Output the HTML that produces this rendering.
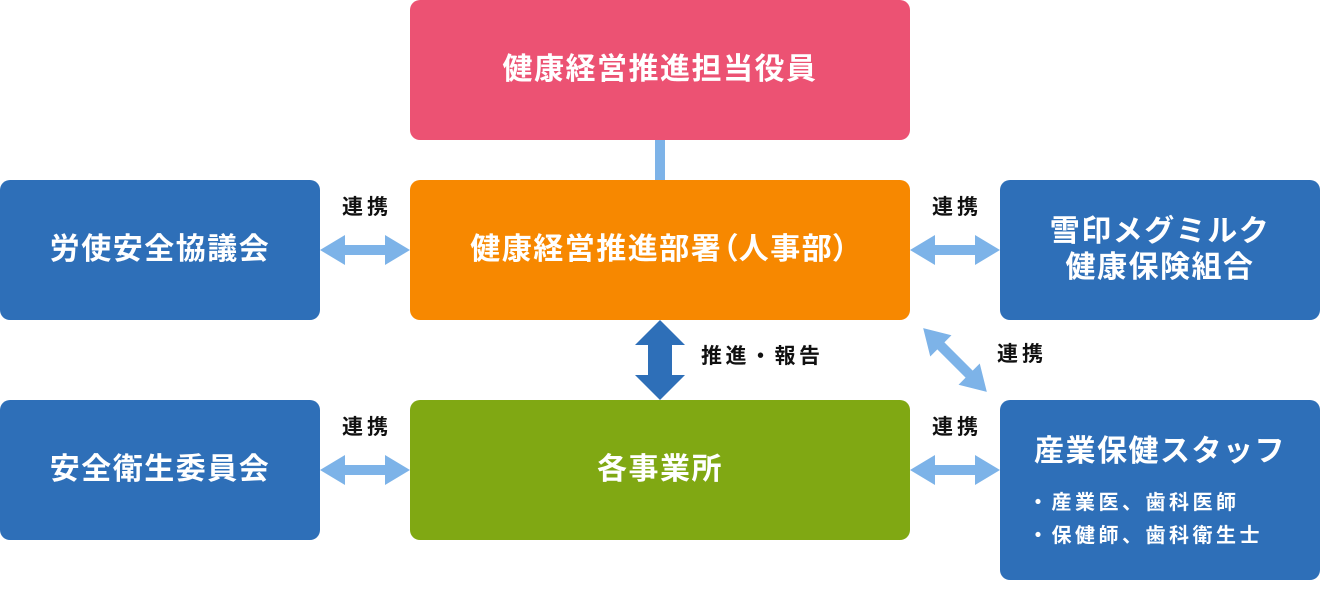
<!DOCTYPE html>
<html><head><meta charset="utf-8"><style>
html,body{margin:0;padding:0;background:#fff;}
body{width:1320px;height:600px;position:relative;overflow:hidden;font-family:"Liberation Sans","Noto Sans CJK JP",sans-serif;font-weight:700;}
.box{position:absolute;border-radius:10px;color:#fff;display:flex;align-items:center;justify-content:center;text-align:center;font-size:30px;letter-spacing:1.5px;line-height:36px;}
.blue{background:#2E6FB8;}
.lbl{position:absolute;color:#111;font-size:21px;letter-spacing:4px;line-height:24px;white-space:nowrap;}
svg{position:absolute;left:0;top:0;}
.abs{position:absolute;white-space:nowrap;color:#fff;}
.p{font-feature-settings:"palt";}
</style></head><body>
<svg width="1320" height="600">
<rect x="655" y="140" width="10" height="40" fill="#7DB3E8"/>
<polygon fill="#7DB3E8" points="320,250 345,235 345,245 385,245 385,235 410,250 385,265 385,255 345,255 345,265"/>
<polygon fill="#7DB3E8" points="910,250 935,235 935,245 975,245 975,235 1000,250 975,265 975,255 935,255 935,265"/>
<polygon fill="#7DB3E8" points="320,470 345,455 345,465 385,465 385,455 410,470 385,485 385,475 345,475 345,485"/>
<polygon fill="#7DB3E8" points="910,470 935,455 935,465 975,465 975,455 1000,470 975,485 975,475 935,475 935,485"/>
<g transform="rotate(45 955 360)">
<polygon fill="#7DB3E8" points="910,360 935,345 935,355 975,355 975,345 1000,360 975,375 975,365 935,365 935,375"/>
</g>
<polygon fill="#2E6FB8" points="660,320 685,345 672,345 672,375 685,375 660,400 635,375 648,375 648,345 635,345"/>
</svg>

<div class="box" style="left:410px;top:0;width:500px;height:140px;background:#EC5273;">健康経営推進担当役員</div>
<div class="box" style="left:410px;top:180px;width:500px;height:140px;background:#F78800;">健康経営推進部署<span class="p">（</span>人事部<span class="p">）</span></div>
<div class="box" style="left:410px;top:400px;width:500px;height:140px;background:#80A813;">各事業所</div>
<div class="box blue" style="left:0;top:180px;width:320px;height:140px;">労使安全協議会</div>
<div class="box blue" style="left:0;top:400px;width:320px;height:140px;">安全衛生委員会</div>
<div class="box blue" style="left:1000px;top:180px;width:320px;height:140px;">雪印メグミルク<br>健康保険組合</div>
<div class="box blue" style="left:1000px;top:400px;width:320px;height:180px;"></div>
<div class="abs" style="left:1000px;width:320px;text-align:center;top:434px;font-size:30px;letter-spacing:1.5px;line-height:36px;">産業保健スタッフ</div>
<div class="abs" style="left:1028px;top:491px;font-size:20px;letter-spacing:3.5px;line-height:24px;">・産業医、歯科医師</div>
<div class="abs" style="left:1028px;top:524px;font-size:20px;letter-spacing:3.5px;line-height:24px;">・保健師、歯科衛生士</div>

<div class="lbl" style="left:342px;top:196px;">連携</div>
<div class="lbl" style="left:932px;top:196px;">連携</div>
<div class="lbl" style="left:342px;top:416px;">連携</div>
<div class="lbl" style="left:932px;top:416px;">連携</div>
<div class="lbl" style="left:997px;top:343px;">連携</div>
<div class="lbl" style="left:701px;top:345px;letter-spacing:3.5px;">推進・報告</div>
</body></html>
